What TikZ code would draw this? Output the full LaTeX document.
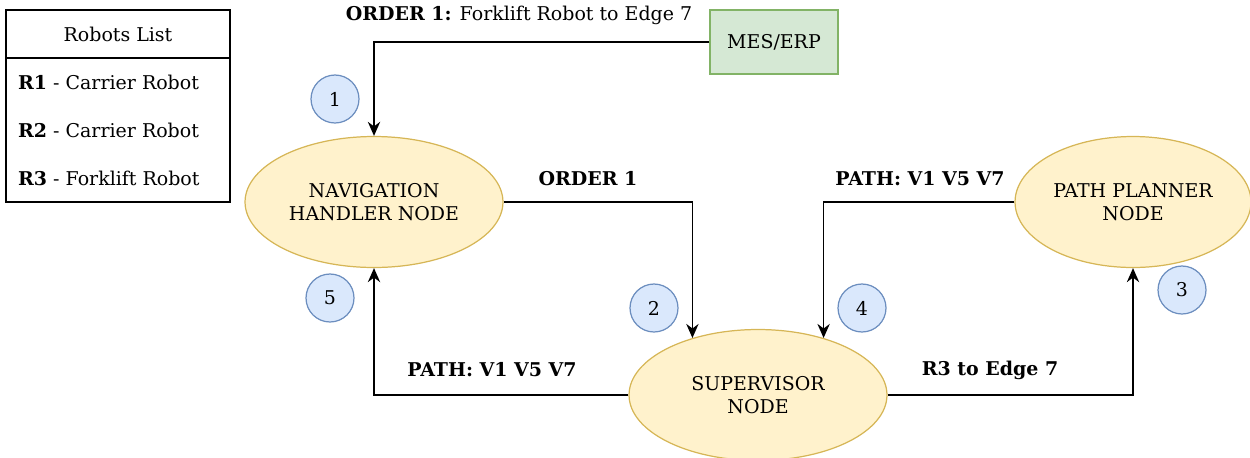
\documentclass[tikz,border=0pt]{standalone}
\usepackage{fontspec}
\setmainfont{DejaVu Serif}
\usepackage{tikz}
\usetikzlibrary{positioning,arrows.meta,shapes.geometric}
\definecolor{nodefill}{HTML}{FFF2CC}
\definecolor{nodeline}{HTML}{D6B656}
\definecolor{stepfill}{HTML}{DAE8FC}
\definecolor{stepline}{HTML}{6C8EBF}
\definecolor{mesfill}{HTML}{D5E8D4}
\definecolor{mesline}{HTML}{82B366}

\begin{document}
\begin{tikzpicture}[x=0.02cm, y=-0.02cm,
  every node/.style={font=\fontsize{10.8}{13}\selectfont},
  rosnode/.style={ellipse, draw=nodeline, fill=nodefill, line width=0.7pt, minimum width=5.16cm, minimum height=2.62cm, inner sep=0pt, align=center},
  stepnum/.style={circle, draw=stepline, fill=stepfill, line width=0.7pt, minimum size=0.96cm, inner sep=0pt},
  mesbox/.style={draw=mesline, fill=mesfill, line width=0.7pt, minimum width=2.56cm, minimum height=1.28cm},
  lbl/.style={font=\fontsize{10.8}{13}\selectfont\bfseries},
  arr/.style={-{Stealth[length=8pt,width=7pt]}, line width=1pt}
]
\useasboundingbox (0,0) rectangle (1250,457);

% robots list
\node[draw, line width=0.9pt, minimum width=4.48cm, minimum height=3.84cm] (list) at (118,106) {};
\draw[line width=0.9pt] (6,58) -- (230,58);
\node (listhead) at (118,34) {Robots List};
\node[anchor=west] (r1) at (12,82) {\textbf{R1} - Carrier Robot};
\node[anchor=west] (r2) at (12,130) {\textbf{R2} - Carrier Robot};
\node[anchor=west] (r3) at (12,178) {\textbf{R3} - Forklift Robot};

% nodes
\node[mesbox] (mes) at (774,42) {MES/ERP};
\node[rosnode] (nav) at (374,202) {NAVIGATION\\HANDLER NODE};
\node[rosnode] (sup) at (758,395) {SUPERVISOR\\NODE};
\node[rosnode, minimum width=4.72cm] (pp) at (1133,202) {PATH PLANNER\\NODE};

% step numbers
\node[stepnum] (s1) at (335,99) {1};
\node[stepnum] (s2) at (654,308) {2};
\node[stepnum] (s3) at (1182,290) {3};
\node[stepnum] (s4) at (862,308) {4};
\node[stepnum] (s5) at (330,298) {5};

% messages
\draw[arr] (mes.west) -| (nav.north);
\draw[arr] (nav.east) -| (sup.139.2);
\draw[arr] (sup.east) -| (pp.south);
\draw[arr] (pp.west) -| (sup.41.4);
\draw[arr] (sup.west) -| (nav.south);

\node (order) at (519,15) {\textbf{ORDER 1:} Forklift Robot to Edge 7};
\node[lbl] (ordlbl) at (588,179) {ORDER 1};
\node[lbl] (pathback) at (920,179) {PATH: V1 V5 V7};
\node[lbl] (edgelbl) at (990,370) {R3 to Edge 7};
\node[lbl] (pathnav) at (492,370) {PATH: V1 V5 V7};
\end{tikzpicture}
\end{document}
